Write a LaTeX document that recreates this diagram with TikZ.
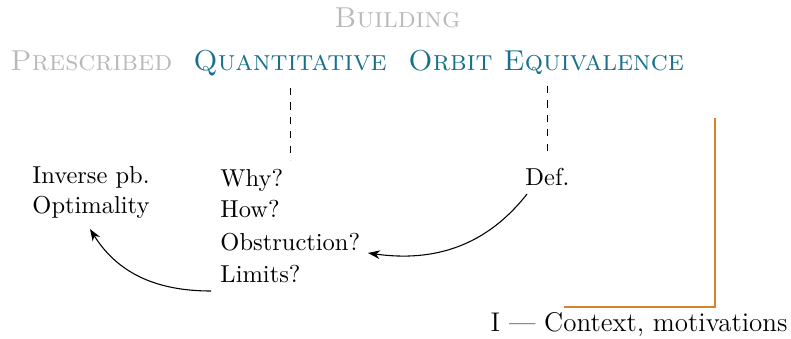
\documentclass[tikz,border=0pt]{standalone}
\usetikzlibrary{arrows.meta}
\definecolor{teal1}{RGB}{24,112,142}
\definecolor{gray1}{RGB}{185,185,185}
\definecolor{orange1}{RGB}{217,130,45}
\begin{document}
\begin{tikzpicture}[x=0.4167pt,y=-0.4167pt,
  lbl/.style={inner sep=0pt,anchor=base west,font=\fontsize{10.2}{12}\selectfont},
  ttl/.style={inner sep=0pt,anchor=base west,font=\fontsize{12}{14}\selectfont\scshape},
  arr/.style={-{Stealth[length=5pt,width=3.6pt]},line width=0.45pt},
  dsh/.style={dashed,line width=0.4pt}]
\useasboundingbox (0,0) rectangle (791,338);
% titles
\node[ttl,text=gray1,anchor=base] (building) at (397.5,27) {Building};
\node[ttl,text=gray1] (prescribed) at (10,70.5) {Prescribed};
\node[ttl,text=teal1] (quant) at (193,70.5) {Quantitative};
\node[ttl,text=teal1] (orbit) at (408,70.5) {Orbit};
\node[ttl,text=teal1] (equiv) at (503,70.5) {Equivalence};
% dashed
\coordinate (d1a) at (290,88); \coordinate (d1b) at (290,160);
\coordinate (d2a) at (547,86); \coordinate (d2b) at (547,156);
\draw[dsh] (d1a) -- (d1b);
\draw[dsh] (d2a) -- (d2b);
% lists
\node[lbl] (inv) at (32,183) {Inverse pb.};
\node[lbl] (opt) at (32,213.5) {Optimality};
\node[lbl] (why) at (220,186) {Why?};
\node[lbl] (how) at (220,217.5) {How?};
\node[lbl] (obs) at (220,250) {Obstruction?};
\node[lbl] (lim) at (220,282) {Limits?};
\node[lbl] (def) at (525,185) {Def.};
% arrows
\coordinate (defs) at (527,194);
\coordinate (obse) at (368,253);
\coordinate (lims) at (211,291);
\coordinate (opte) at (90,229);
\draw[arr] (defs) to[out=-128,in=-8] (obse);
\draw[arr] (lims) to[out=180,in=-58] (opte);
% orange frame
\coordinate (o1) at (715,118); \coordinate (o2) at (715,307); \coordinate (o3) at (564,307);
\draw[orange1,line width=0.85pt] (o1) -- (o2) -- (o3);
\node[inner sep=0pt,anchor=base east,font=\fontsize{11.25}{13}\selectfont] (ctx) at (788,331.5) {I --- Context, motivations};
\end{tikzpicture}
\end{document}
